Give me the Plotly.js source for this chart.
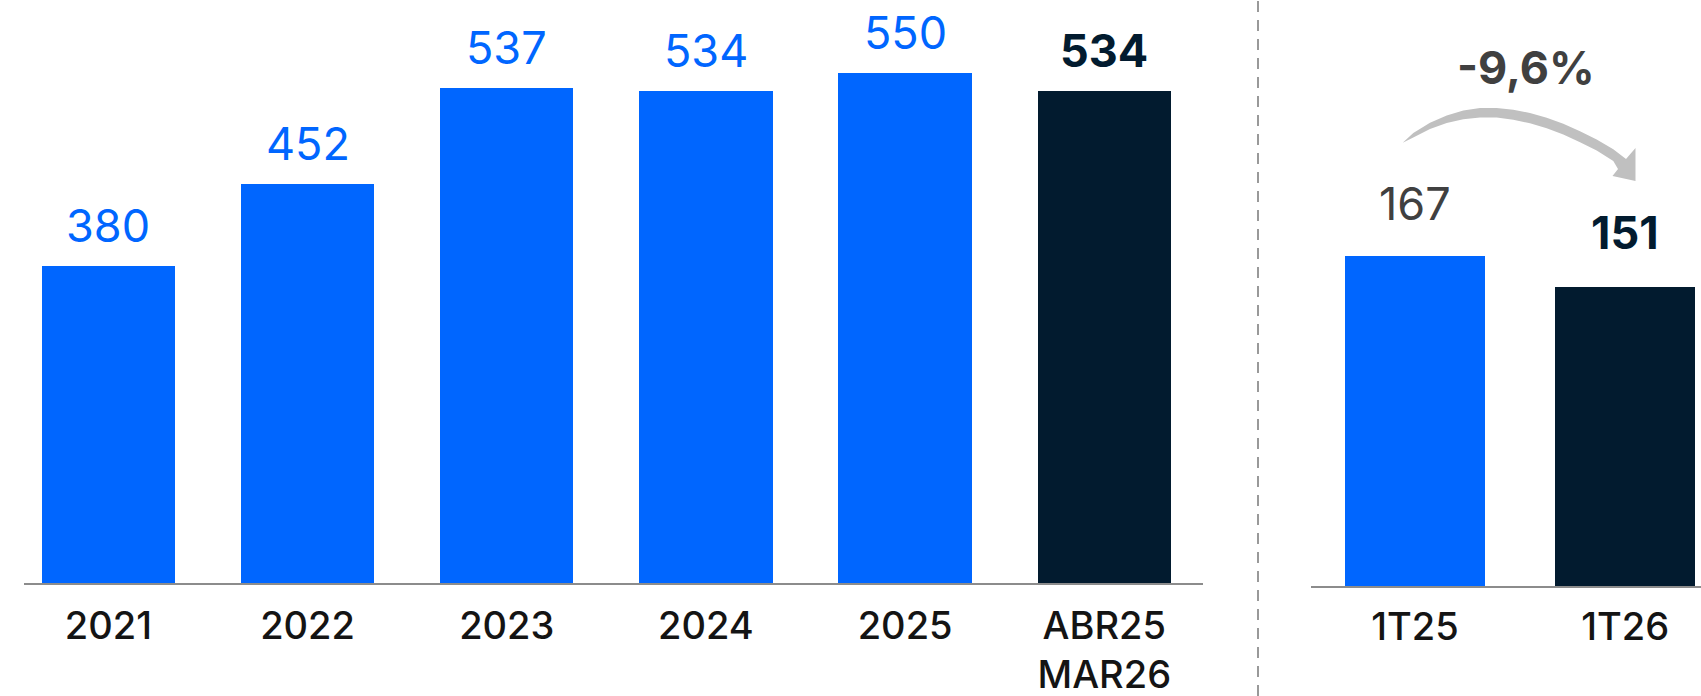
<!DOCTYPE html>
<html>
<head>
<meta charset="utf-8">
<script src="https://cdn.plot.ly/plotly-3.0.1.min.js"></script>
<style>
  html, body { margin: 0; padding: 0; background: #ffffff; }
  #chart { width: 1701px; height: 696px; }
</style>
</head>
<body>
<div id="chart"></div>
<script>
// ---- data ----
const yearCats   = ["2021", "2022", "2023", "2024", "2025", "ABR25<br>MAR26"];
const yearValues = [380, 452, 537, 534, 550, 534];
const quarterCats   = ["1T25", "1T26"];
const quarterValues = [167, 151];
const changeLabel = "-9,6%";

// ---- styles ----
const BLUE = "#0066FF";
const DARK = "#021B2F";
const GREY_TXT = "#404040";
const FONT = "Inter, 'Noto Sans', sans-serif";

const yearColors = yearValues.map((v, i) => i === yearValues.length - 1 ? DARK : BLUE);
const quarterColors = quarterValues.map((v, i) => i === quarterValues.length - 1 ? DARK : BLUE);

const traces = [
  { type: "bar", x: yearCats, y: yearValues, marker: { color: yearColors }, width: 0.669,
    xaxis: "x", yaxis: "y", hoverinfo: "skip", showlegend: false },
  { type: "bar", x: quarterCats, y: quarterValues, marker: { color: quarterColors }, width: 0.663,
    xaxis: "x2", yaxis: "y2", hoverinfo: "skip", showlegend: false }
];

const annotations = [];
yearValues.forEach((v, i) => {
  const last = i === yearValues.length - 1;
  annotations.push({
    xref: "x", yref: "y", x: i, y: v, text: last ? "<b>" + v + "</b>" : String(v),
    showarrow: false, yanchor: "bottom", yshift: 11,
    font: { family: FONT, size: 45, color: last ? DARK : BLUE }
  });
});
quarterValues.forEach((v, i) => {
  const last = i === quarterValues.length - 1;
  annotations.push({
    xref: "x2", yref: "y2", x: i, y: v, text: last ? "<b>" + v + "</b>" : String(v),
    showarrow: false, yanchor: "bottom", yshift: last ? 25 : 23,
    font: { family: FONT, size: 45, color: last ? DARK : GREY_TXT }
  });
});
annotations.push({
  xref: "x2", yref: "y2", x: 0.53, y: 253, text: "<b>" + changeLabel + "</b>",
  showarrow: false, yanchor: "bottom", yshift: -11,
  font: { family: FONT, size: 45, color: GREY_TXT }
});

// plot area geometry (pixels) for the decorative arrow / divider
const W = 1701, PH = 586;
const px = x => x / W;
const py = y => (PH - y) / PH;
const arrowOutline = [
  [1402.7, 142.7], [1413.3, 133.0], [1430, 122.8], [1446.7, 115.6], [1463.3, 110.4],
  [1480, 108.0], [1496.7, 108.0], [1513.3, 109.8], [1530, 113.0], [1546.7, 117.8],
  [1563.3, 123.8], [1580, 131.2], [1596.7, 139.6], [1613.3, 149.2], [1626, 159],
  [1635.5, 148.0], [1635.5, 181.0], [1612.5, 176.0], [1618, 169],
  [1613.3, 161.0], [1596.7, 150.6], [1580, 142.2], [1563.3, 134.6], [1546.7, 128.2],
  [1530, 123.2], [1513.3, 119.8], [1496.7, 117.6], [1480, 117.4], [1463.3, 119.2],
  [1446.7, 123.0], [1430, 129.0], [1413.3, 137.4]
];
const arrowPath = arrowOutline.map((p, i) =>
  (i === 0 ? "M" : "L") + px(p[0]).toFixed(5) + "," + py(p[1]).toFixed(5)).join(" ") + " Z";

const layout = {
  width: 1701, height: 696,
  margin: { l: 0, r: 0, t: 0, b: 110, pad: 0 },
  paper_bgcolor: "#ffffff", plot_bgcolor: "#ffffff",
  font: { family: FONT, color: "#1a1a1a" },
  bargap: 0,
  xaxis: {
    domain: [24 / W, 1202.7 / W], type: "category", range: [-0.4234, 5.494],
    showline: true, linecolor: "#8c8c8c", linewidth: 2, ticks: "", showgrid: false, zeroline: false,
    tickfont: { family: FONT, size: 38, color: "#141414", weight: 500 }, ticklabelstandoff: 8, fixedrange: true
  },
  yaxis: {
    domain: [(PH - 583.3) / PH, 1], range: [100, 100 + 583.3 / 1.1338],
    visible: false, showgrid: false, zeroline: false, fixedrange: true
  },
  xaxis2: {
    domain: [1310.7 / W, 1], type: "category", range: [-0.496, 1.3606], anchor: "y2",
    showline: true, linecolor: "#8c8c8c", linewidth: 2, ticks: "", showgrid: false, zeroline: false,
    tickfont: { family: FONT, size: 38, color: "#141414", weight: 500 }, ticklabelstandoff: 6, fixedrange: true
  },
  yaxis2: {
    domain: [0, 1], range: [0, PH / 1.978], anchor: "x2",
    visible: false, showgrid: false, zeroline: false, fixedrange: true
  },
  annotations: annotations,
  shapes: [
    { type: "line", xref: "paper", yref: "paper", x0: px(1258), x1: px(1258), y0: py(696), y1: py(0),
      line: { color: "#999999", width: 2, dash: "11px,8px" } },
    { type: "path", xref: "paper", yref: "paper", path: arrowPath,
      fillcolor: "#c0c0c0", line: { width: 0 } }
  ],
  showlegend: false
};

Plotly.newPlot("chart", traces, layout, { displayModeBar: false, staticPlot: true });
</script>
</body>
</html>
